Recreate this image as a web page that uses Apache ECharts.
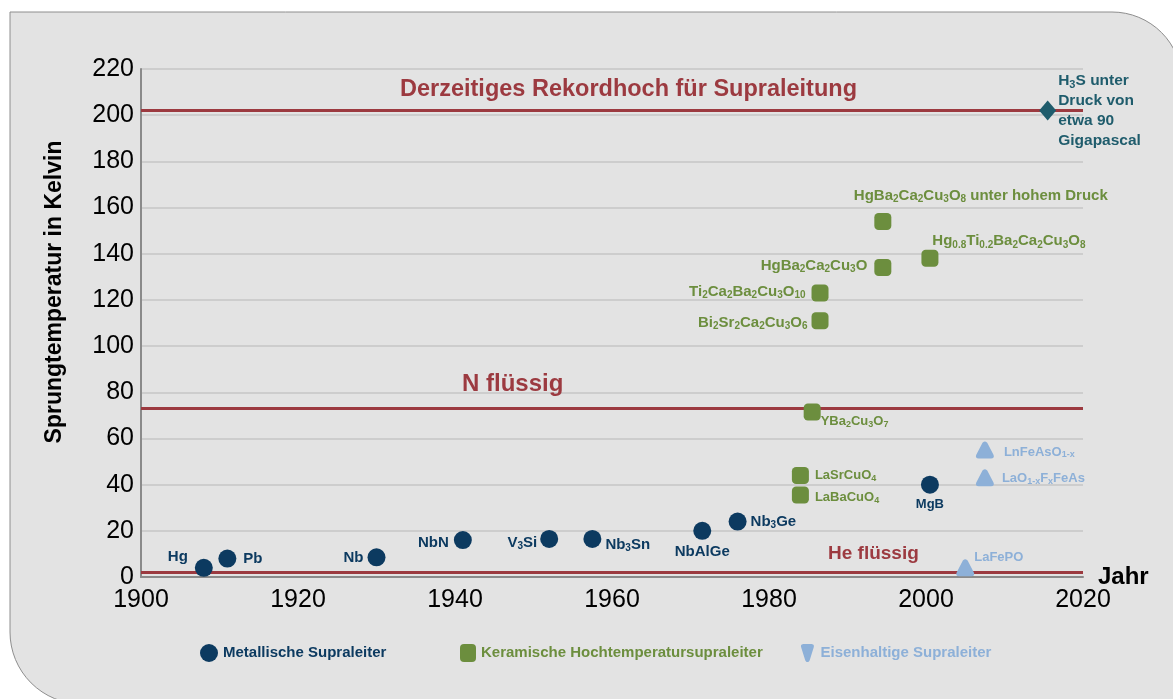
<!DOCTYPE html>
<html>
<head>
<meta charset="utf-8">
<script src="https://cdn.jsdelivr.net/npm/echarts@6/dist/echarts.min.js"></script>
<style>
  html, body { margin: 0; padding: 0; background: #ffffff; }
  #chart { width: 1173px; height: 699px; }
</style>
</head>
<body>
<div id="chart"></div>
<script>
// Sprungtemperaturen von Supraleitern nach Entdeckungsjahr
const metallicNames = ['Hg', 'Pb', 'Nb', 'NbN', 'V{s|3}Si', 'Nb{s|3}Sn', 'NbAlGe', 'Nb{s|3}Ge', 'MgB'];
const metallicYears = [1908, 1911, 1930, 1941, 1952, 1957.5, 1971.5, 1976, 2000.5];
const metallicTc = [4, 8, 8.5, 16, 16.5, 16.5, 20, 24, 40];

const ceramicNames = [
  'LaBaCuO{s|4}',
  'LaSrCuO{s|4}',
  'YBa{s|2}Cu{s|3}O{s|7}',
  'Bi{s|2}Sr{s|2}Ca{s|2}Cu{s|3}O{s|6}',
  'Ti{s|2}Ca{s|2}Ba{s|2}Cu{s|3}O{s|10}',
  'HgBa{s|2}Ca{s|2}Cu{s|3}O',
  'HgBa{s|2}Ca{s|2}Cu{s|3}O{s|8} unter hohem Druck',
  'Hg{s|0.8}Ti{s|0.2}Ba{s|2}Ca{s|2}Cu{s|3}O{s|8}'
];
const ceramicYears = [1984, 1984, 1985.5, 1986.5, 1986.5, 1994.5, 1994.5, 2000.5];
const ceramicTc = [35.5, 44, 71.5, 111, 123, 134, 154, 138];

const ironNames = ['LaFePO', 'LaO{s|1-x}F{s|x}FeAs', 'LnFeAsO{s|1-x}'];
const ironYears = [2005, 2007.5, 2007.5];
const ironTc = [4, 43, 55];

const hydrideNames = ['H{s|3}S unter\nDruck von\netwa 90\nGigapascal'];
const hydrideYears = [2015.5];
const hydrideTc = [202];

const limitNames = ['Derzeitiges Rekordhoch für Supraleitung', 'N flüssig', 'He flüssig'];
const limitValues = [202, 73, 2];

const seriesNames = ['Metallische Supraleiter', 'Keramische Hochtemperatursupraleiter', 'Eisenhaltige Supraleiter'];
const xTicks = [1900, 1920, 1940, 1960, 1980, 2000, 2020];

// colours
const NAVY = '#0c3a60';
const GREEN = '#6c8e3e';
const LIGHTBLUE = '#8db0d8';
const TEAL = '#1f5c6c';
const RED = '#9c3a40';
const FONT = '"Liberation Sans", Arial, sans-serif';

// label placement for each point: [position, distance, offset, fontSize]
const metallicPlace = [
  ['left', 7, [0, -11], 15], ['right', 7, [0, 0], 15], ['left', 4, [0, 0], 15],
  ['left', 5, [0, 3], 15], ['left', 3, [0, 4], 15], ['right', 4, [0, 6], 15],
  ['bottom', 5, [0, 0], 15], ['right', 4, [0, 0], 15], ['bottom', 4, [0, 0], 13]
];
const ceramicPlace = [
  ['right', 6, [0, 2], 13], ['right', 6, [0, 0], 13], ['right', 0, [0, 10], 13],
  ['left', 4, [0, 2], 15], ['left', 6, [0, -1], 15], ['left', 7, [0, -2], 15],
  ['top', 9, [98, 0], 15], ['top', 0, [79, 0], 15]
];
const ironPlace = [['right', 0, [0, -10], 13], ['right', 8, [0, 1], 13], ['right', 10, [0, 2], 13]];
const hydridePlace = [['right', 2, [0, 0], 15.5]];
const limitPlace = [[259, 9, 23.5], [321, 12, 24], [687, 9, 19]];

function points(names, years, tc, place, color) {
  return names.map((n, i) => {
    const fs = place[i][3];
    return {
      value: [years[i], tc[i]],
      name: n,
      label: {
        show: true,
        formatter: n,
        position: place[i][0],
        distance: place[i][1],
        offset: place[i][2],
        color: color,
        fontSize: fs,
        fontWeight: 'bold',
        fontFamily: FONT,
        rich: {
          s: {
            color: color,
            fontSize: Math.round(fs * 0.68),
            fontWeight: 'bold',
            fontFamily: FONT,
            padding: [Math.round(fs * 0.45), 0, 0, 0]
          }
        }
      }
    };
  });
}

const triUp = 'path://M10,1 C11.6,1 12.4,2 13.1,3.4 L19.2,15 C20.3,17.2 19.2,19 16.6,19 L3.4,19 C0.8,19 -0.3,17.2 0.8,15 L6.9,3.4 C7.6,2 8.4,1 10,1 Z';
const triDown = 'path://M10,20 C11.4,20 12.2,18.8 12.7,17 L16.5,5 C17.5,2 16,1 13.5,1 L6.5,1 C4,1 2.5,2 3.5,5 L7.3,17 C7.8,18.8 8.6,20 10,20 Z';

const chart = echarts.init(document.getElementById('chart'), null, { renderer: 'canvas' });

const legendText = (color) => ({ color: color, fontSize: 15, fontWeight: 'bold', fontFamily: FONT });

const option = {
  animation: false,
  backgroundColor: '#ffffff',
  graphic: [{
    type: 'rect',
    z: -10,
    silent: true,
    shape: { x: 10, y: 12, width: 1172, height: 692, r: [0, 70, 0, 72] },
    style: { fill: '#e3e3e3', stroke: '#8e8e8e', lineWidth: 1 }
  }],
  grid: { left: 141, right: 90, top: 69, bottom: 122 },
  xAxis: {
    type: 'value',
    min: xTicks[0],
    max: xTicks[xTicks.length - 1],
    interval: 20,
    name: 'Jahr',
    nameLocation: 'end',
    nameGap: 15,
    nameMoveOverlap: false,
    nameTextStyle: { color: '#000', fontSize: 24, fontWeight: 'bold', fontFamily: FONT, verticalAlign: 'middle' },
    axisLine: { show: true, lineStyle: { color: '#8a8a8a', width: 2 } },
    axisTick: { show: false },
    splitLine: { show: false },
    axisLabel: { color: '#000', fontSize: 25, fontFamily: FONT, margin: 11, formatter: (v) => String(v) }
  },
  yAxis: {
    type: 'value',
    min: 0,
    max: 220,
    interval: 20,
    name: 'Sprungtemperatur in Kelvin',
    nameLocation: 'middle',
    nameRotate: 90,
    nameGap: 75,
    nameMoveOverlap: false,
    nameTextStyle: { color: '#000', fontSize: 23, fontWeight: 'bold', fontFamily: FONT, padding: [0, 0, 0, 62] },
    axisLine: { show: true, lineStyle: { color: '#8a8a8a', width: 2 } },
    axisTick: { show: false },
    splitLine: { show: true, lineStyle: { color: '#cdcdcd', width: 2 } },
    axisLabel: { color: '#000', fontSize: 25, fontFamily: FONT, margin: 7, formatter: (v) => String(v) }
  },
  legend: [
    {
      data: [{ name: seriesNames[0], icon: 'circle' }],
      left: 200, top: 644, padding: 0, itemWidth: 18, itemHeight: 18, itemGap: 0,
      selectedMode: false,
      textStyle: legendText(NAVY)
    },
    {
      data: [{ name: seriesNames[1], icon: 'roundRect' }],
      left: 460, top: 644, padding: 0, itemWidth: 16, itemHeight: 18, itemGap: 0,
      selectedMode: false,
      textStyle: legendText(GREEN)
    },
    {
      data: [{ name: seriesNames[2], icon: triDown }],
      left: 801, top: 644, padding: 0, itemWidth: 16, itemHeight: 18, itemGap: 0,
      selectedMode: false,
      textStyle: legendText(LIGHTBLUE)
    }
  ],
  series: [
    {
      name: 'Grenzlinien',
      type: 'line',
      data: [],
      silent: true,
      markLine: {
        z: 1,
        silent: true,
        symbol: 'none',
        lineStyle: { color: RED, width: 3, type: 'solid' },
        data: limitNames.map((n, i) => ({
          yAxis: limitValues[i],
          name: n,
          label: {
            show: true,
            formatter: n,
            position: 'insideStartTop',
            distance: [limitPlace[i][0], limitPlace[i][1]],
            color: RED,
            fontSize: limitPlace[i][2],
            fontWeight: 'bold',
            fontFamily: FONT
          }
        }))
      }
    },
    {
      name: seriesNames[0],
      type: 'scatter',
      z: 3,
      symbol: 'circle',
      symbolSize: 18,
      itemStyle: { color: NAVY, opacity: 1 },
      data: points(metallicNames, metallicYears, metallicTc, metallicPlace, NAVY)
    },
    {
      name: seriesNames[1],
      type: 'scatter',
      z: 3,
      symbol: 'roundRect',
      symbolSize: 17,
      itemStyle: { color: GREEN, opacity: 1 },
      data: points(ceramicNames, ceramicYears, ceramicTc, ceramicPlace, GREEN)
    },
    {
      name: seriesNames[2],
      type: 'scatter',
      z: 3,
      symbol: triUp,
      symbolSize: [18, 17],
      itemStyle: { color: LIGHTBLUE, opacity: 1 },
      data: points(ironNames, ironYears, ironTc, ironPlace, LIGHTBLUE)
    },
    {
      name: 'H3S',
      type: 'scatter',
      z: 3,
      symbol: 'diamond',
      symbolSize: [17, 20],
      itemStyle: { color: TEAL, opacity: 1 },
      data: points(hydrideNames, hydrideYears, hydrideTc, hydridePlace, TEAL).map(d => {
        d.label.lineHeight = 20;
        d.label.align = 'left';
        d.label.rich.s.lineHeight = 20;
        d.label.rich.s.padding = [0, 0, 0, 0];
        d.label.rich.s.verticalAlign = 'bottom';
        return d;
      })
    }
  ]
};

chart.setOption(option);
</script>
</body>
</html>
